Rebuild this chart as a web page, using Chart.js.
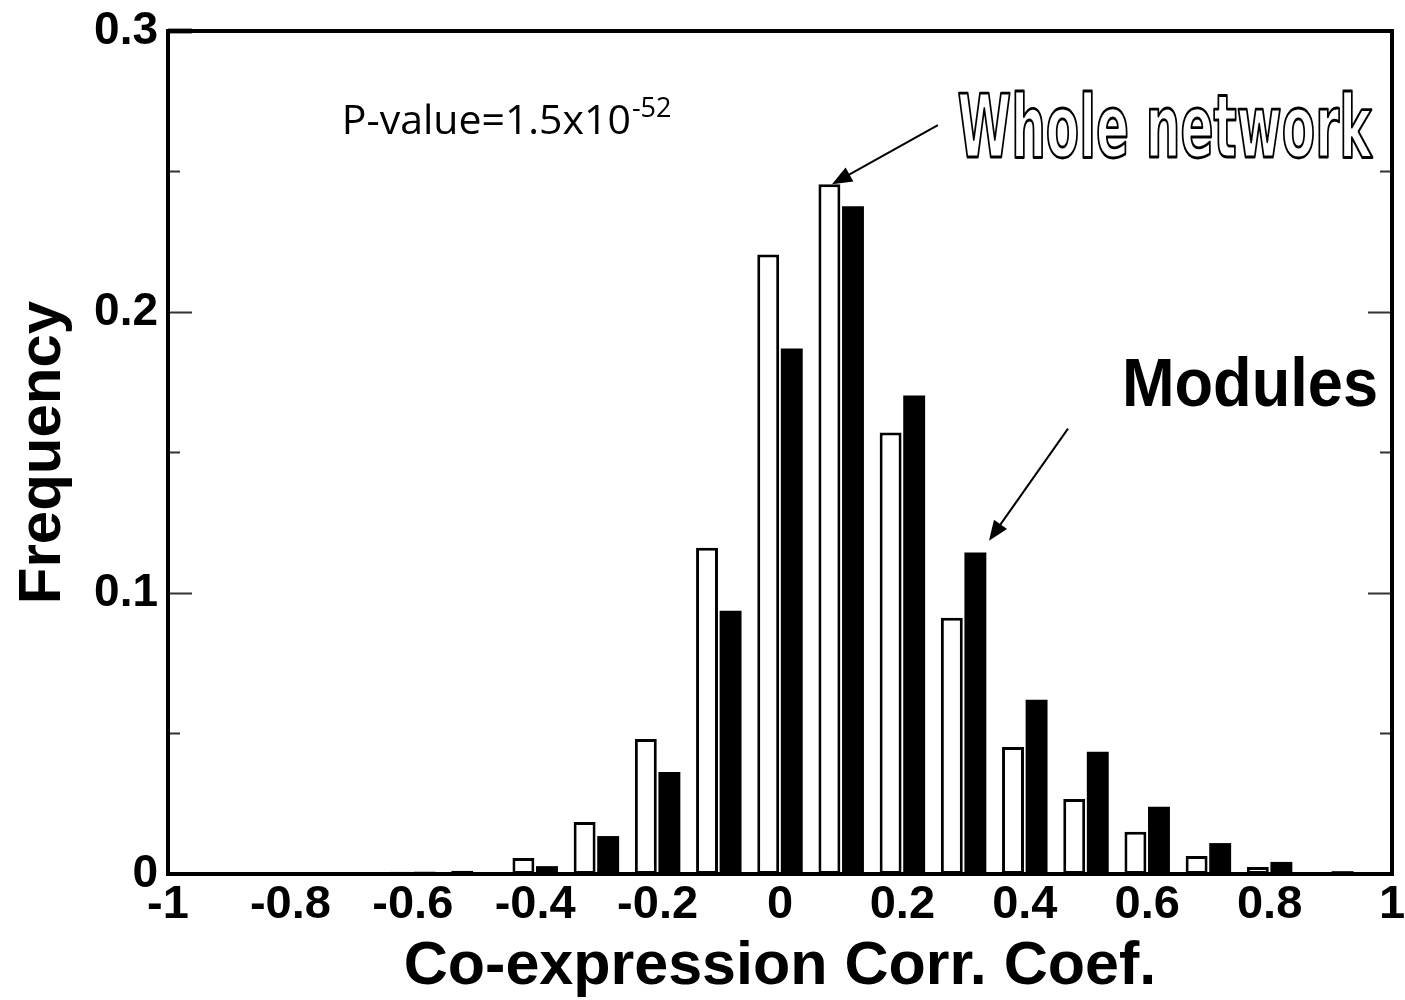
<!DOCTYPE html>
<html>
<head>
<meta charset="utf-8">
<script src="https://cdn.jsdelivr.net/npm/chart.js@4.4.1/dist/chart.umd.min.js"></script>
<style>
  html, body { margin: 0; padding: 0; background: #fff; }
  #wrap { width: 1405px; height: 1000px; }
</style>
</head>
<body>
<div id="wrap"><canvas id="chart"></canvas></div>
<script>
// bin centres of the histogram (corr. coef.)
const bins = [-0.9, -0.8, -0.7, -0.6, -0.5, -0.4, -0.3, -0.2, -0.1, 0, 0.1, 0.2, 0.3, 0.4, 0.5, 0.6, 0.7, 0.8, 0.9];
// white bars
const wholeNetwork = [0, 0, 0.0005, 0.0008, 0.0012, 0.0057, 0.0185, 0.048, 0.1161, 0.2205, 0.2455, 0.1571, 0.0912, 0.0452, 0.0267, 0.015, 0.0064, 0.0025, 0.0007];
// black bars
const modules = [0, 0, 0, 0.0008, 0, 0.0028, 0.0135, 0.0363, 0.0937, 0.187, 0.2376, 0.1703, 0.1144, 0.062, 0.0435, 0.0239, 0.011, 0.0043, 0.001];

const xTicks = [-1, -0.8, -0.6, -0.4, -0.2, 0, 0.2, 0.4, 0.6, 0.8, 1];
const yTicks = [0, 0.1, 0.2, 0.3];

const sans = "'Liberation Sans', Arial, Helvetica, sans-serif";

function fitText(ctx, txt, x, y, w) {
  const m = ctx.measureText(txt).width;
  ctx.save();
  ctx.translate(x, y);
  ctx.scale(w / m, 1);
  return m;
}

function arrow(ctx, x1, y1, x2, y2) {
  const a = Math.atan2(y2 - y1, x2 - x1);
  const len = 20, half = 8;
  ctx.beginPath();
  ctx.moveTo(x1, y1);
  ctx.lineTo(x2 - Math.cos(a) * len * 0.8, y2 - Math.sin(a) * len * 0.8);
  ctx.lineWidth = 2;
  ctx.strokeStyle = '#000';
  ctx.stroke();
  ctx.beginPath();
  ctx.moveTo(x2, y2);
  ctx.lineTo(x2 - Math.cos(a) * len + Math.sin(a) * half, y2 - Math.sin(a) * len - Math.cos(a) * half);
  ctx.lineTo(x2 - Math.cos(a) * len - Math.sin(a) * half, y2 - Math.sin(a) * len + Math.cos(a) * half);
  ctx.closePath();
  ctx.fillStyle = '#000';
  ctx.fill();
}

// frame, inward ticks and the text labels inside the plot
const framePlugin = {
  id: 'frame',
  afterDraw(chart) {
    const ctx = chart.ctx;
    const { left, right, top, bottom } = chart.chartArea;
    const xs = chart.scales.x, ys = chart.scales.y;
    ctx.save();
    // y ticks on both sides, major every 0.1, minor every 0.05
    ctx.strokeStyle = '#333';
    ctx.lineWidth = 2;
    for (let v = 0.05; v < 0.3; v += 0.05) {
      const py = Math.round(ys.getPixelForValue(v)) + 0.5;
      const major = Math.abs(v * 10 - Math.round(v * 10)) < 1e-6;
      const len = major ? 24 : 12;
      ctx.beginPath();
      ctx.moveTo(left, py); ctx.lineTo(left + len, py);
      ctx.moveTo(right, py); ctx.lineTo(right - len, py);
      ctx.stroke();
    }
    ctx.lineWidth = 5;
    ctx.beginPath();
    ctx.moveTo(left, top); ctx.lineTo(left + 24, top);
    ctx.stroke();
    ctx.strokeStyle = '#000';
    ctx.lineWidth = 4;
    ctx.strokeRect(left, top, right - left, bottom - top);

    // P-value
    ctx.fillStyle = '#000';
    ctx.textBaseline = 'alphabetic';
    ctx.textAlign = 'left';
    ctx.font = "41px 'Open Sans', sans-serif";
    const px = xs.getPixelForValue(-0.716), py = ys.getPixelForValue(0.2635);
    const base = 'P-value=1.5x10';
    ctx.fillText(base, px, py);
    const bw = ctx.measureText(base).width;
    ctx.font = "27px 'Open Sans', sans-serif";
    ctx.fillText('-52', px + bw + 1, py - 17);

    // Whole network (outlined)
    ctx.font = "bold 88px 'DejaVu Sans Condensed', 'DejaVu Sans', sans-serif";
    fitText(ctx, 'Whole network', xs.getPixelForValue(0.29), ys.getPixelForValue(0.2552), 414);
    ctx.lineJoin = 'round';
    ctx.fillStyle = '#fff';
    ctx.fillText('Whole network', 0, 0);
    ctx.lineWidth = 2.8;
    ctx.strokeStyle = '#000';
    ctx.strokeText('Whole network', 0, 0);
    ctx.restore();

    // Modules
    ctx.save();
    ctx.fillStyle = '#000';
    ctx.font = 'bold 68px ' + sans;
    fitText(ctx, 'Modules', xs.getPixelForValue(0.5588), ys.getPixelForValue(0.1664), 256);
    ctx.fillText('Modules', 0, 0);
    ctx.restore();

    arrow(ctx, xs.getPixelForValue(0.258), ys.getPixelForValue(0.2665),
      xs.getPixelForValue(0.085), ys.getPixelForValue(0.2455));
    arrow(ctx, xs.getPixelForValue(0.4706), ys.getPixelForValue(0.1585),
      xs.getPixelForValue(0.3415), ys.getPixelForValue(0.1186));
    ctx.restore();
  }
};

new Chart(document.getElementById('chart'), {
  type: 'bar',
  data: {
    datasets: [
      {
        label: 'Whole network',
        data: bins.map((b, i) => ({ x: b, y: wholeNetwork[i] })),
        backgroundColor: '#fff',
        borderColor: '#000',
        borderWidth: 3,
        borderSkipped: false
      },
      {
        label: 'Modules',
        data: bins.map((b, i) => ({ x: b, y: modules[i] })),
        backgroundColor: '#000',
        borderColor: '#000',
        borderWidth: 0
      }
    ]
  },
  options: {
    responsive: true,
    maintainAspectRatio: false,
    animation: false,
    categoryPercentage: 0.77,
    barPercentage: 0.93,
    layout: { padding: { top: 31, right: 13, left: 0, bottom: 0 } },
    plugins: {
      legend: { display: false },
      tooltip: { enabled: false }
    },
    scales: {
      x: {
        type: 'linear',
        min: -1,
        max: 1,
        offset: false,
        grid: { display: false, offset: false, drawTicks: false },
        border: { display: false },
        afterBuildTicks: (s) => { s.ticks = xTicks.map(v => ({ value: v })); },
        afterFit: (s) => { s.height = 126; s.paddingLeft = 0; s.paddingRight = 0; },
        ticks: {
          color: '#000',
          padding: 8,
          maxRotation: 0,
          autoSkip: false,
          font: { family: sans, size: 47, weight: 'bold', lineHeight: 1 },
          callback: (v) => String(+v.toFixed(1))
        },
        title: {
          display: true,
          text: 'Co-expression Corr. Coef.',
          color: '#000',
          padding: { top: 0, bottom: 2 },
          font: { family: sans, size: 61, weight: 'bold', lineHeight: 1 }
        }
      },
      y: {
        min: 0,
        max: 0.3,
        grid: { display: false, drawTicks: false },
        border: { display: false },
        afterBuildTicks: (s) => { s.ticks = yTicks.map(v => ({ value: v })); },
        afterFit: (s) => { s.width = 168; s.paddingTop = 0; s.paddingBottom = 0; },
        ticks: {
          color: '#000',
          padding: 10,
          font: { family: sans, size: 46, weight: 'bold', lineHeight: 1 },
          callback: (v) => String(+v.toFixed(1))
        },
        title: {
          display: true,
          text: 'Frequency',
          color: '#000',
          padding: { top: 13, bottom: 0 },
          font: { family: sans, size: 60, weight: 'bold', lineHeight: 1 }
        }
      }
    }
  },
  plugins: [framePlugin]
});
</script>
</body>
</html>
